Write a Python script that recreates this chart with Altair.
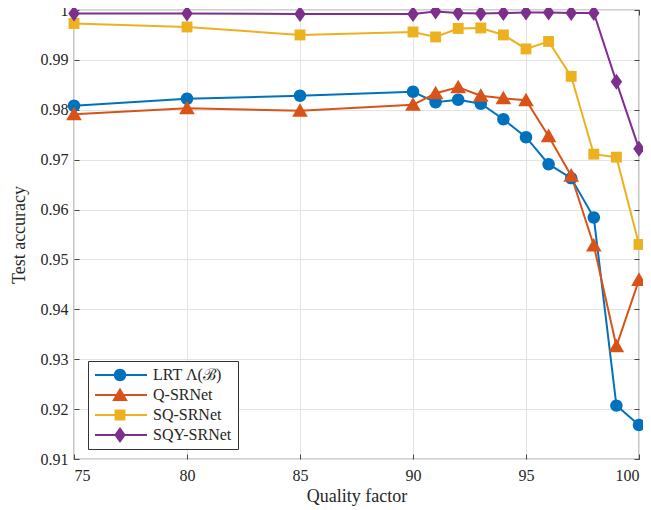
import altair as alt
import pandas as pd

quality = [75, 80, 85, 90, 91, 92, 93, 94, 95, 96, 97, 98, 99, 100]
lrt = [0.9808, 0.9822, 0.9828, 0.9836, 0.9815, 0.9820, 0.9812, 0.9781, 0.9745, 0.9691, 0.9663, 0.9584, 0.9207, 0.9168]
q_srnet = [0.9791, 0.9803, 0.9798, 0.9810, 0.9833, 0.9845, 0.9828, 0.9823, 0.9819, 0.9747, 0.9668, 0.9528, 0.9326, 0.9459]
sq_srnet = [0.9973, 0.9966, 0.9950, 0.9956, 0.9946, 0.9963, 0.9964, 0.9950, 0.9922, 0.9937, 0.9867, 0.9711, 0.9705, 0.9530]
sqy_srnet = [0.9993, 0.9993, 0.9992, 0.9992, 0.9997, 0.9994, 0.9993, 0.9994, 0.9995, 0.9995, 0.9994, 0.9994, 0.9856, 0.9722]

names = ["LRT Λ(ℬ)", "Q-SRNet", "SQ-SRNet", "SQY-SRNet"]
colors = ["#0072BD", "#D95319", "#EDB120", "#7E2F8E"]
shapes = [
    "M0.78,0A0.78,0.78 0 1,1 -0.78,0A0.78,0.78 0 1,1 0.78,0Z",
    "M0,-0.95L0.98,0.75L-0.98,0.75Z",
    "M-0.68,-0.68H0.68V0.68H-0.68Z",
    "M0,-1L0.72,0L0,1L-0.72,0Z",
]
x_ticks = [75, 80, 85, 90, 95, 100]
y_ticks = [0.91, 0.92, 0.93, 0.94, 0.95, 0.96, 0.97, 0.98, 0.99, 1.0]

rows = []
for name, vals in zip(names, [lrt, q_srnet, sq_srnet, sqy_srnet]):
    for q, v in zip(quality, vals):
        rows.append({"q": q, "acc": v, "series": name, "series2": name})
df = pd.DataFrame(rows)

W, H = 565, 449
FONT = "Liberation Serif"
TXT = "#262626"
xs = alt.Scale(domain=[75, 100], nice=False, zero=False)
ys = alt.Scale(domain=[0.91, 1.0], nice=False, zero=False)
ylabel = "datum.value == 1 ? '1' : format(datum.value, '.2f')"

base = alt.Chart(df)

lines = base.mark_line(strokeWidth=2).encode(
    x=alt.X("q:Q", scale=xs, axis=alt.Axis(
        values=x_ticks, format="d", grid=True, gridColor="#e3e3e3", tickSize=0,
        domain=False, labelPadding=8, labelFontSize=16, labelFont=FONT, labelColor=TXT,
        title="Quality factor", titleFont=FONT, titleFontSize=18, titleFontWeight="normal",
        titleColor=TXT, titlePadding=4)),
    y=alt.Y("acc:Q", scale=ys, axis=alt.Axis(
        values=y_ticks, labelExpr=ylabel, grid=True, gridColor="#e3e3e3", tickSize=0,
        domain=False, labelPadding=6, labelFontSize=16, labelFont=FONT, labelColor=TXT,
        title="Test accuracy", titleFont=FONT, titleFontSize=18, titleFontWeight="normal",
        titleColor=TXT, titlePadding=12)),
    color=alt.Color("series:N", scale=alt.Scale(domain=names, range=colors),
                    legend=alt.Legend(
                        title=None, orient="none", legendX=14, legendY=351,
                        symbolType="stroke", symbolSize=2704, symbolStrokeWidth=2,
                        symbolOffset=0, labelOffset=5, labelFont=FONT, labelFontSize=16,
                        labelColor=TXT, rowPadding=4, padding=6, clipHeight=16,
                        fillColor="white", strokeColor="#333333")),
    detail="series:N",
)

points = base.mark_point(filled=True, size=256, opacity=1, strokeWidth=0).encode(
    x=alt.X("q:Q", scale=xs, axis=alt.Axis(
        orient="top", offset=-H, values=x_ticks, labels=False, grid=False,
        domain=False, ticks=True, tickSize=5, tickColor="#444444", title=None)),
    y=alt.Y("acc:Q", scale=ys, axis=alt.Axis(
        orient="right", offset=-W, values=y_ticks, labels=False, grid=False,
        domain=False, ticks=True, tickSize=5, tickColor="#444444", title=None)),
    color=alt.Color("series2:N", scale=alt.Scale(domain=names, range=colors),
                    legend=alt.Legend(
                        title=None, orient="none", legendX=14, legendY=351,
                        symbolSize=256, symbolOffset=18, symbolStrokeWidth=0,
                        labelOffset=5, labelFont=FONT, labelFontSize=16,
                        labelOpacity=0, rowPadding=4, padding=6, clipHeight=16)),
    shape=alt.Shape("series2:N", scale=alt.Scale(domain=names, range=shapes)),
)

ticks2 = base.mark_point(opacity=0).encode(
    x=alt.X("q:Q", scale=xs, axis=alt.Axis(
        orient="bottom", offset=-H, values=x_ticks, labels=False, grid=False,
        domain=False, ticks=True, tickSize=5, tickColor="#444444", title=None)),
    y=alt.Y("acc:Q", scale=ys, axis=alt.Axis(
        orient="left", offset=-W, values=y_ticks, labels=False, grid=False,
        domain=False, ticks=True, tickSize=5, tickColor="#444444", title=None)),
)

chart = alt.layer(lines, points, ticks2).resolve_scale(
    color="independent", shape="independent"
).resolve_axis(
    x="independent", y="independent"
).properties(
    width=W, height=H,
    padding={"left": 66, "top": 2, "right": 4, "bottom": 51},
    autosize=alt.AutoSizeParams(type="none"),
).configure_view(
    stroke="#444444", strokeWidth=1.2
)

chart.save("out.html", embed_options={"renderer": "svg", "actions": False})
